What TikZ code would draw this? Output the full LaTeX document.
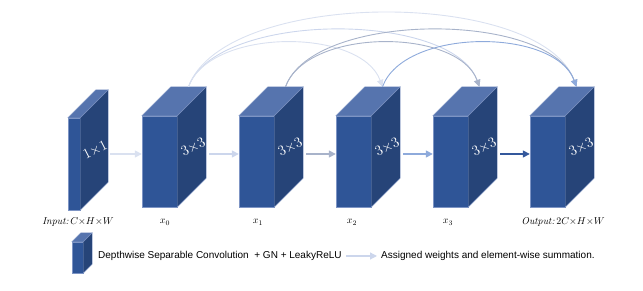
\documentclass[tikz,border=0pt]{standalone}
\usepackage{xcolor}
\usepackage{fontspec}
\usepackage{tikz}
\usetikzlibrary{arrows.meta, positioning, calc}
\newfontfamily\legendfont{Liberation Sans}
\definecolor{cubefront}{RGB}{47, 85, 151}
\definecolor{cubeside}{RGB}{38, 68, 120}
\definecolor{cubetop}{RGB}{86, 116, 174}
\definecolor{cubeedge}{RGB}{125, 148, 196}
\definecolor{palelink}{RGB}{218, 225, 240}
\definecolor{lightlink}{RGB}{204, 214, 236}
\definecolor{graylink}{RGB}{168, 179, 202}
\definecolor{bluelink}{RGB}{142, 170, 219}
\definecolor{darklink}{RGB}{52, 88, 156}
% top and side faces of a cube, drawn on its front node (#1) with depth #2
\newcommand{\cubefaces}[2]{%
  \filldraw[topface] (#1.north west) -- ++(#2,#2) -- ($(#1.north east)+(#2,#2)$)
    -- (#1.north east) -- cycle;
  \filldraw[sideface] (#1.north east) -- ++(#2,#2) -- ($(#1.south east)+(#2,#2)$)
    -- (#1.south east) -- cycle;
}

\begin{document}
\begin{tikzpicture}[x=1pt, y=1pt,
  front/.style={rectangle, fill=cubefront, draw=cubeedge, line width=0.4pt,
    minimum width=35pt, minimum height=91pt, inner sep=0pt},
  topface/.style={fill=cubetop, draw=cubeedge, line width=0.4pt},
  sideface/.style={fill=cubeside, draw=cubeedge, line width=0.4pt},
  ksize/.style={text=white, rotate=27, inner sep=0pt,
    font=\fontsize{14pt}{14pt}\selectfont},
  harr/.style={-{Triangle[length=7pt, width=7pt]}, line width=1.5pt},
  skip/.style={-{Triangle[length=7pt, width=6.5pt]}, line width=0.9pt},
  lbl/.style={font=\fontsize{10pt}{12pt}\selectfont, inner sep=0pt},
  legtext/.style={font=\legendfont\fontsize{10pt}{11pt}\selectfont,
    anchor=west, inner sep=0pt}
]
\useasboundingbox (0,0) rectangle (643,291);
% cubes
\node[front, minimum width=12pt, minimum height=92pt] at (74, 127) (b0) {};
\node[front] at (159.5, 129.5) (b1) {};
\node[front] at (256.5, 129.5) (b2) {};
\node[front] at (353.5, 129.5) (b3) {};
\node[front] at (450.5, 129.5) (b4) {};
\node[front] at (547.5, 129.5) (b5) {};
\cubefaces{b0}{28}
\cubefaces{b1}{29}
\cubefaces{b2}{29}
\cubefaces{b3}{29}
\cubefaces{b4}{29}
\cubefaces{b5}{29}
\node[ksize] at ($(b0.east)+(15,14)$) (k0) {$1{\times}1$};
\node[ksize] at ($(b1.east)+(16,14.5)$) (k1) {$3{\times}3$};
\node[ksize] at ($(b2.east)+(16,14.5)$) (k2) {$3{\times}3$};
\node[ksize] at ($(b3.east)+(16,14.5)$) (k3) {$3{\times}3$};
\node[ksize] at ($(b4.east)+(16,14.5)$) (k4) {$3{\times}3$};
\node[ksize] at ($(b5.east)+(16,14.5)$) (k5) {$3{\times}3$};
% labels under the cubes
\node[lbl] at ($(b0.south)+(4,-12)$) (in) {\textit{Input:}\,$C{\times}H{\times}W$};
\node[lbl] at ($(b1.south)+(5.5,-15)$) (l1) {$x_0$};
\node[lbl] at ($(b2.south)+(1.5,-15)$) (l2) {$x_1$};
\node[lbl] at ($(b3.south)+(-1.5,-15)$) (l3) {$x_2$};
\node[lbl] at ($(b4.south)+(-2.5,-15)$) (l4) {$x_3$};
\node[lbl] at ($(b5.south)+(15.5,-15)$) (out) {\textit{Output:}\,$2C{\times}H{\times}W$};
% forward arrows
\coordinate (o0) at (110, 137);
\coordinate (o1) at (209, 137);
\coordinate (o2) at (306, 137);
\coordinate (o3) at (403, 137);
\coordinate (o4) at (500, 137);
\draw[harr, color=palelink] (o0) -- (o0 -| b1.west);
\draw[harr, color=lightlink] (o1) -- (o1 -| b2.west);
\draw[harr, color=graylink] (o2) -- (o2 -| b3.west);
\draw[harr, color=bluelink] (o3) -- (o3 -| b4.west);
\draw[harr, color=darklink] (o4) -- (o4 -| b5.west);
% skip connections between the cube tops
\coordinate (t1) at ($(b1.north)+(29,29)$);
\coordinate (t2) at ($(b2.north)+(29,29)$);
\coordinate (t3) at ($(b3.north)+(29,29)$);
\coordinate (t4) at ($(b4.north)+(29,29)$);
\coordinate (t5) at ($(b5.north)+(29,29)$);
\draw[skip, color=palelink] (t1) to[out=70, in=110, distance=105] (t5);
\draw[skip, color=lightlink] (t1) to[out=70, in=110, distance=81] (t4);
\draw[skip, color=palelink] (t1) to[out=70, in=110, distance=63] (t3);
\draw[skip, color=graylink] (t2) to[out=70, in=110, distance=81] (t5);
\draw[skip, color=graylink] (t2) to[out=70, in=110, distance=63] (t4);
\draw[skip, color=bluelink] (t3) to[out=70, in=110, distance=63] (t5);
% legend
\node[front, minimum width=11pt, minimum height=31pt] at (77.5, 33.5) (lb) {};
\cubefaces{lb}{9}
\node[legtext] at (98, 35) (ltx) {Depthwise Separable Convolution \ + GN + LeakyReLU};
\coordinate (la) at (346, 35);
\draw[harr, line width=1.2pt, color=lightlink] (la) -- ++(31,0) coordinate (lb2);
\node[legtext] at (381, 35) (lsum) {Assigned weights and element-wise summation.};
\end{tikzpicture}
\end{document}
